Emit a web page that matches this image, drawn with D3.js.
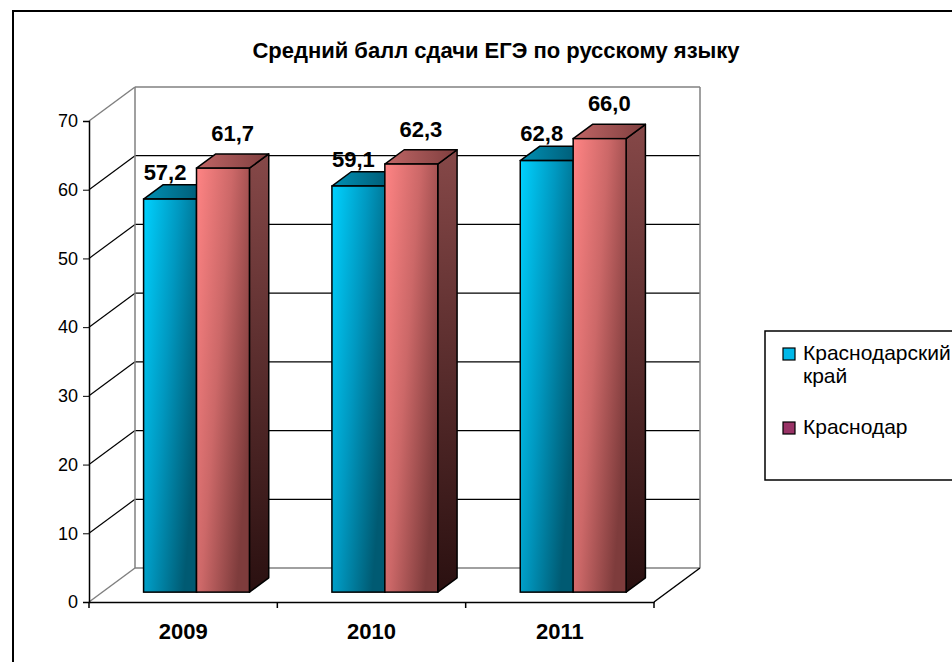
<!DOCTYPE html>
<html>
<head>
<meta charset="utf-8">
<script src="https://cdn.jsdelivr.net/npm/d3@7"></script>
<style>
  body { margin: 0; background: #fff; }
  text { font-family: "Liberation Sans", Arial, sans-serif; }
</style>
</head>
<body>
<div id="chart"></div>
<script>
var years = ["2009", "2010", "2011"];
var series = ["Краснодарский край", "Краснодар"];
var kraiValues = [57.2, 59.1, 62.8];
var cityValues = [61.7, 62.3, 66.0];
var yTicks = [0, 10, 20, 30, 40, 50, 60, 70];

var data = [];
years.forEach(function (y, i) {
    data.push({year: y, s: 0, value: kraiValues[i]});
    data.push({year: y, s: 1, value: cityValues[i]});
});

var W = 952, H = 662;
// depth of the 3d box and the slice the bars take in it
var depth = {dx: 46, dy: -34};
var barFront = 0.29, barBack = 0.71;

var svg = d3.select("#chart").append("svg")
    .attr("width", W)
    .attr("height", H);

var defs = svg.append("defs");
function grad(id, x2, y2, stops) {
    var g = defs.append("linearGradient").attr("id", id)
        .attr("x1", 0).attr("y1", 0).attr("x2", x2).attr("y2", y2);
    stops.forEach(function (c, i) {
        g.append("stop").attr("offset", (i / (stops.length - 1) * 100) + "%").attr("stop-color", c);
    });
}
grad("blueFront", 1, 0.6, ["#00d2ff", "#0098c0", "#005a72"]);
grad("blueTop", 1, 0, ["#0090b4", "#004e66"]);
grad("blueSide", 0, 1, ["#005a70", "#00202a"]);
grad("redFront", 1, 0.6, ["#ff8484", "#cc6868", "#7e3c3c"]);
grad("redTop", 1, 0, ["#c06666", "#7e3e3e"]);
grad("redSide", 0, 1, ["#864848", "#2a1010"]);

// outer frame
svg.append("rect")
    .attr("x", 13).attr("y", 11)
    .attr("width", W + 20).attr("height", H + 20)
    .attr("fill", "none")
    .attr("stroke", "#000")
    .attr("stroke-width", 2);

svg.append("text")
    .attr("x", 496).attr("y", 58)
    .attr("text-anchor", "middle")
    .attr("font-size", 22)
    .attr("font-weight", "bold")
    .text("Средний балл сдачи ЕГЭ по русскому языку");

var y = d3.scaleLinear().domain([0, 70]).range([602, 121]);
var x0 = d3.scaleBand().domain(years).range([89, 654]);
var x1 = d3.scaleBand().domain([0, 1])
    .range([x0.bandwidth() * 0.219, x0.bandwidth() * 0.781]);

var left = x0.range()[0], right = x0.range()[1];

// back wall + left wall
var walls = svg.append("g");
yTicks.forEach(function (t) {
    var edge = (t === 0 || t === 70);
    walls.append("line")
        .attr("x1", left + depth.dx).attr("x2", right + depth.dx)
        .attr("y1", y(t) + depth.dy).attr("y2", y(t) + depth.dy)
        .attr("stroke", edge ? "#808080" : "#000")
        .attr("stroke-width", edge ? 1.5 : 1.2);
    walls.append("line")
        .attr("x1", left).attr("x2", left + depth.dx)
        .attr("y1", y(t)).attr("y2", y(t) + depth.dy)
        .attr("stroke", edge ? "#808080" : "#000")
        .attr("stroke-width", edge ? 1.5 : 1.2);
});
walls.append("line")
    .attr("x1", left + depth.dx).attr("x2", left + depth.dx)
    .attr("y1", y(0) + depth.dy).attr("y2", y(70) + depth.dy)
    .attr("stroke", "#808080").attr("stroke-width", 1.5);
walls.append("line")
    .attr("x1", right + depth.dx).attr("x2", right + depth.dx)
    .attr("y1", y(0) + depth.dy).attr("y2", y(70) + depth.dy)
    .attr("stroke", "#808080").attr("stroke-width", 1.5);
// floor right edge
walls.append("line")
    .attr("x1", right).attr("x2", right + depth.dx)
    .attr("y1", y(0)).attr("y2", y(0) + depth.dy)
    .attr("stroke", "#000").attr("stroke-width", 1.5);

// bars
var bars = svg.append("g");
data.forEach(function (d) {
    var fx = x0(d.year) + x1(d.s) + depth.dx * barFront;
    var w = x1.bandwidth();
    var fb = y(0) + depth.dy * barFront;
    var ft = y(d.value) + depth.dy * barFront;
    var ox = depth.dx * (barBack - barFront), oy = depth.dy * (barBack - barFront);
    var name = d.s === 0 ? "blue" : "red";
    var pts = function (a) { return a.map(function (p) { return p.join(","); }).join(" "); };
    bars.append("polygon")
        .attr("points", pts([[fx + w, ft], [fx + w + ox, ft + oy], [fx + w + ox, fb + oy], [fx + w, fb]]))
        .attr("fill", "url(#" + name + "Side)")
        .attr("stroke", "#000").attr("stroke-width", 1.5).attr("stroke-linejoin", "round");
    bars.append("polygon")
        .attr("points", pts([[fx, ft], [fx + ox, ft + oy], [fx + w + ox, ft + oy], [fx + w, ft]]))
        .attr("fill", "url(#" + name + "Top)")
        .attr("stroke", "#000").attr("stroke-width", 1.5).attr("stroke-linejoin", "round");
    bars.append("rect")
        .attr("x", fx).attr("y", ft)
        .attr("width", w).attr("height", fb - ft)
        .attr("fill", "url(#" + name + "Front)")
        .attr("stroke", "#000").attr("stroke-width", 1.5);

    bars.append("text")
        .attr("x", fx + w / 2 + (d.s === 0 ? -5 : ox / 2))
        .attr("y", ft + oy - (d.s === 0 ? 5 : 13))
        .attr("text-anchor", "middle")
        .attr("font-size", 22)
        .attr("font-weight", "bold")
        .text(d3.format(".1f")(d.value).replace(".", ","));
});

// axes
var yAxis = d3.axisLeft(y).tickValues(yTicks).tickSize(6).tickPadding(5);
var gy = svg.append("g").attr("transform", "translate(" + left + ",0)").call(yAxis);
gy.selectAll("text").attr("font-size", 18).attr("font-family", "Liberation Sans, Arial, sans-serif");

var xAxis = d3.axisBottom(x0).tickSize(0).tickPadding(21);
var gx = svg.append("g").attr("transform", "translate(0," + y(0) + ")").call(xAxis);
gx.selectAll("text").attr("font-size", 22).attr("font-weight", "bold")
    .attr("font-family", "Liberation Sans, Arial, sans-serif");
gx.select(".domain").attr("stroke-width", 1.5);
gy.select(".domain").attr("stroke-width", 1.5);
// category boundary ticks
gx.selectAll(".sep").data(years.concat(["end"])).enter().append("line")
    .attr("x1", function (d, i) { return i < years.length ? x0(d) : right; })
    .attr("x2", function (d, i) { return i < years.length ? x0(d) : right; })
    .attr("y1", 0).attr("y2", 6)
    .attr("stroke", "#000").attr("stroke-width", 1.5);

// legend
var lg = svg.append("g").attr("transform", "translate(765,331)");
lg.append("rect").attr("width", 200).attr("height", 149)
    .attr("fill", "#fff").attr("stroke", "#000").attr("stroke-width", 1.5);
var legendColors = ["#00b8e8", "#993366"];
var legendLines = [["Краснодарский", "край"], ["Краснодар"]];
var legendY = [29, 103];
legendLines.forEach(function (lines, i) {
    lg.append("rect").attr("x", 18).attr("y", legendY[i] - 12)
        .attr("width", 12).attr("height", 12)
        .attr("fill", legendColors[i]).attr("stroke", "#000").attr("stroke-width", 1.2);
    var t = lg.append("text").attr("x", 38).attr("y", legendY[i]).attr("font-size", 21);
    lines.forEach(function (l, j) {
        t.append("tspan").attr("x", 38).attr("dy", j === 0 ? 0 : 23).text(l);
    });
});
</script>
</body>
</html>
